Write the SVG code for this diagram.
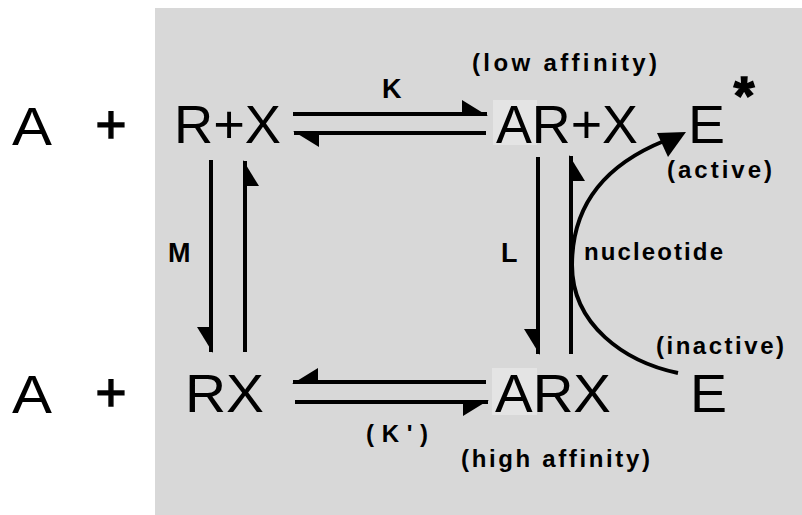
<svg xmlns="http://www.w3.org/2000/svg" width="802" height="515" viewBox="0 0 802 515">
<style>
.big{font-family:"Liberation Sans",Arial,sans-serif;font-size:53px;fill:#000}
.lbl{font-family:"Liberation Sans",Arial,sans-serif;font-size:24px;font-weight:bold;fill:#000}
.sym{font-family:"Liberation Sans",Arial,sans-serif;font-size:27px;font-weight:bold;fill:#000}
.ln{fill:none;stroke:#000;stroke-width:4}
.patch{fill:#e4e4e4}
</style>
<defs>
<marker id="hl" markerUnits="userSpaceOnUse" viewBox="-28 -16 30 20" markerWidth="30" markerHeight="20" refX="0" refY="0" orient="auto">
<polygon points="1,2 -25,-14 -25,2" fill="#000"/>
</marker>
<marker id="hr" markerUnits="userSpaceOnUse" viewBox="-28 -4 30 20" markerWidth="30" markerHeight="20" refX="0" refY="0" orient="auto">
<polygon points="1,-2 -25,14 -25,-2" fill="#000"/>
</marker>
</defs>
<rect x="0" y="0" width="802" height="515" fill="#fff"/>
<rect x="155" y="8" width="647" height="507" fill="#d8d8d8"/>

<g id="n-A-top"><text class="big" x="12" y="145" font-size="55" textLength="40" lengthAdjust="spacingAndGlyphs">A</text></g>
<g id="n-plus-top"><text class="big" x="111" y="143" font-size="50" text-anchor="middle" stroke="#000" stroke-width="1.5">+</text></g>
<g id="n-RplusX"><text class="big" x="174" y="143" textLength="107" lengthAdjust="spacingAndGlyphs">R+X</text></g>
<g id="n-ARplusX"><rect class="patch" x="493" y="100" width="44" height="45"/><text class="big" x="496" y="143" textLength="142" lengthAdjust="spacingAndGlyphs">AR+X</text></g>
<g id="n-Estar"><text class="big" x="688" y="143" textLength="37" lengthAdjust="spacingAndGlyphs">E</text><text class="big" x="744" y="114" font-size="20" font-weight="bold" text-anchor="middle" stroke="#000" stroke-width="1.5">*</text><text class="lbl" x="667" y="178" textLength="105" lengthAdjust="spacing">(active)</text></g>
<g id="n-A-bot"><text class="big" x="12" y="413" font-size="55" textLength="40" lengthAdjust="spacingAndGlyphs">A</text></g>
<g id="n-plus-bot"><text class="big" x="111" y="411" font-size="50" text-anchor="middle" stroke="#000" stroke-width="1.5">+</text></g>
<g id="n-RX"><text class="big" x="185" y="412" textLength="79" lengthAdjust="spacingAndGlyphs">RX</text></g>
<g id="n-ARX"><rect class="patch" x="492" y="368" width="45" height="47"/><text class="big" x="495" y="412" textLength="116" lengthAdjust="spacingAndGlyphs">ARX</text></g>
<g id="n-E"><text class="big" x="690" y="412" textLength="37" lengthAdjust="spacingAndGlyphs">E</text><text class="lbl" x="656" y="354" textLength="128" lengthAdjust="spacing">(inactive)</text></g>

<g id="connectors">
<path class="ln" d="M293,114 H487" marker-end="url(#hl)"/>
<path class="ln" d="M486,133 H294" marker-end="url(#hl)"/>
<path class="ln" d="M211,160 V352" marker-end="url(#hr)"/>
<path class="ln" d="M245,352 V161" marker-end="url(#hr)"/>
<path class="ln" d="M538,157 V354" marker-end="url(#hr)"/>
<path class="ln" d="M571,354 V156" marker-end="url(#hr)"/>
<path class="ln" d="M486,382 H293" marker-end="url(#hr)"/>
<path class="ln" d="M295,402 H488" marker-end="url(#hr)"/>
<path class="ln" d="M678,373 C625,362 572,325 572,265 C572,205 605,165 664,141"/>
<polygon points="686,132 657,133 668,157" fill="#000"/>
<text class="lbl" x="472" y="71" textLength="185" lengthAdjust="spacing">(low affinity)</text>
<text class="sym" x="382" y="98">K</text>
<text class="sym" x="168" y="262">M</text>
<text class="sym" x="501" y="262">L</text>
<text class="lbl" x="584" y="260" textLength="139" lengthAdjust="spacing">nucleotide</text>
<text class="lbl" x="366" y="442" font-size="26" textLength="62" lengthAdjust="spacing">(K')</text>
<text class="lbl" x="461" y="467" textLength="189" lengthAdjust="spacing">(high affinity)</text>
</g>
</svg>
